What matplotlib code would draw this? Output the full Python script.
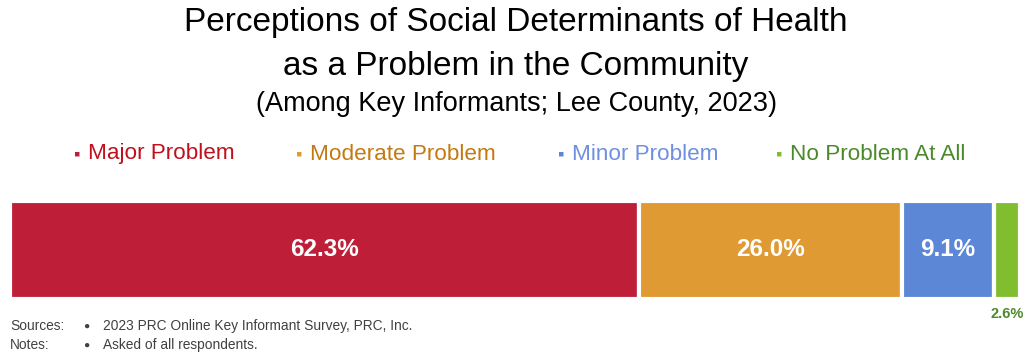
import matplotlib.pyplot as plt
import numpy as np

plt.rcParams['font.family'] = ['Liberation Sans', 'DejaVu Sans']

categories = ["Major Problem", "Moderate Problem", "Minor Problem", "No Problem At All"]
values = [62.3, 26.0, 9.1, 2.6]
bar_colors = ["#BE1E37", "#E09A33", "#5B87D6", "#80BE30"]
text_colors = ["#C0101E", "#C47A12", "#6F8FE0", "#4B8A2A"]

W, H = 1032, 354
fig = plt.figure(figsize=(W / 100, H / 100), dpi=100)

# bar area
ax = fig.add_axes([10 / W, (H - 299) / H, 1010 / W, 98 / H])
left = 0
for i, v in enumerate(values):
    ax.barh(0, v, left=left, height=1.0, color=bar_colors[i],
            edgecolor="white", linewidth=3)
    if v > 5:
        ax.text(left + v / 2, 0, "%.1f%%" % v, ha="center", va="center",
                color="white", fontsize=17.5, fontweight="bold",
                family=["Liberation Sans Narrow", "Liberation Sans"])
    else:
        # small segment: label goes under the bar
        ax.text(left + v / 2, -0.58, "%.1f%%" % v, ha="center", va="top",
                color=text_colors[i], fontsize=10.5, fontweight="bold",
                family=["Liberation Sans Narrow", "Liberation Sans"])
    left += v
ax.set_xlim(0, 100)
ax.set_ylim(-0.5, 0.5)
ax.axis("off")

# titles
fig.text(0.5, 1 - 23 / H, "Perceptions of Social Determinants of Health",
         ha="center", va="center", fontsize=24)
fig.text(0.5, 1 - 67 / H, "as a Problem in the Community",
         ha="center", va="center", fontsize=24)
fig.text(0.5, 1 - 104 / H, "(Among Key Informants; Lee County, 2023)",
         ha="center", va="center", fontsize=19.5)

# legend
leg_x = [77, 299, 561, 779]
for i, c in enumerate(categories):
    fig.text(leg_x[i] / W, 1 - 155 / H, "\u25aa", ha="center", va="center",
             color=bar_colors[i], fontsize=13)
    fig.text((leg_x[i] + 11) / W, 1 - 154 / H, c, ha="left", va="center",
             color=text_colors[i], fontsize=16.2)

# footnotes
fig.text(10 / W, 1 - 326 / H, "Sources:", ha="left", va="center", fontsize=9.9, color="#404040")
fig.text(83 / W, 1 - 326 / H, "\u25cf", ha="left", va="center", fontsize=7.5, color="#404040")
fig.text(103 / W, 1 - 326 / H, "2023 PRC Online Key Informant Survey, PRC, Inc.",
         ha="left", va="center", fontsize=9.9, color="#404040")
fig.text(10 / W, 1 - 345 / H, "Notes:", ha="left", va="center", fontsize=9.9, color="#404040")
fig.text(83 / W, 1 - 345 / H, "\u25cf", ha="left", va="center", fontsize=7.5, color="#404040")
fig.text(103 / W, 1 - 345 / H, "Asked of all respondents.",
         ha="left", va="center", fontsize=9.9, color="#404040")

fig.savefig("out.png", dpi=100)
